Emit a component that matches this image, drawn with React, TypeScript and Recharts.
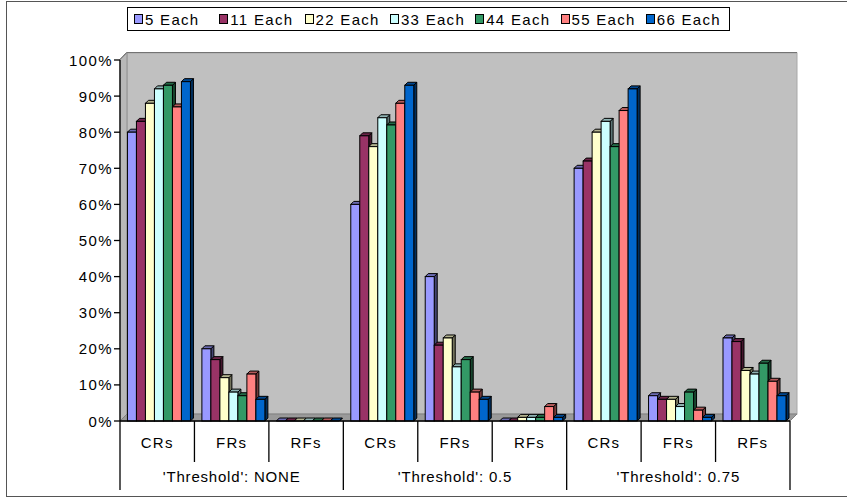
import React from 'react';
import { BarChart, Bar, XAxis, YAxis, CartesianGrid, ReferenceArea, Legend } from 'recharts';

// categories along the x axis, grouped three per threshold setting
const metrics = ['CRs', 'FRs', 'RFs', 'CRs', 'FRs', 'RFs', 'CRs', 'FRs', 'RFs'];
const thresholds = ["'Threshold': NONE", "'Threshold': 0.5", "'Threshold': 0.75"];

const seriesNames = ['5 Each', '11 Each', '22 Each', '33 Each', '44 Each', '55 Each', '66 Each'];
const seriesColors = ['#9999FF', '#993366', '#FFFFCC', '#CCFFFF', '#339966', '#FF8080', '#0066CC'];

const each5 = [0.80, 0.20, 0, 0.60, 0.40, 0, 0.70, 0.07, 0.23];
const each11 = [0.83, 0.17, 0, 0.79, 0.21, 0, 0.72, 0.06, 0.22];
const each22 = [0.88, 0.12, 0, 0.76, 0.23, 0.01, 0.80, 0.06, 0.14];
const each33 = [0.92, 0.08, 0, 0.84, 0.15, 0.01, 0.83, 0.04, 0.13];
const each44 = [0.93, 0.07, 0, 0.82, 0.17, 0.01, 0.76, 0.08, 0.16];
const each55 = [0.87, 0.13, 0, 0.88, 0.08, 0.04, 0.86, 0.03, 0.11];
const each66 = [0.94, 0.06, 0, 0.93, 0.06, 0.01, 0.92, 0.01, 0.07];

const yTicks = [0, 0.1, 0.2, 0.3, 0.4, 0.5, 0.6, 0.7, 0.8, 0.9, 1];

const seriesValues = [each5, each11, each22, each33, each44, each55, each66];

const data = metrics.map((metric, i) => {
  const row: Record<string, string | number> = { metric, group: thresholds[Math.floor(i / 3)] };
  seriesValues.forEach((vals, s) => { row[`s${s}`] = vals[i]; });
  return row;
});

const FONT = '"Liberation Sans", Arial, sans-serif';
const WALL_DX = 7;
const WALL_DY = 7;
const BAR_D = 3;

const shade = (hex: string, f: number) => {
  const n = parseInt(hex.slice(1), 16);
  const c = [(n >> 16) & 255, (n >> 8) & 255, n & 255].map((v) => Math.round(v * f));
  return `rgb(${c[0]},${c[1]},${c[2]})`;
};

// column with a small top cap and right side face
const Bar3D = (props: any) => {
  const { x, y, width, height, fill } = props;
  if (x == null || y == null) return null;
  const w = width;
  const b = y + height;
  return (
    <g stroke="#000" strokeWidth={1} strokeLinejoin="miter">
      <polygon
        points={`${x + w},${y} ${x + w + BAR_D},${y - BAR_D} ${x + w + BAR_D},${b - BAR_D} ${x + w},${b}`}
        fill={shade(fill, 0.45)}
      />
      <polygon
        points={`${x},${y} ${x + BAR_D},${y - BAR_D} ${x + w + BAR_D},${y - BAR_D} ${x + w},${y}`}
        fill={shade(fill, 0.7)}
      />
      {height > 0 && <rect x={x} y={y} width={w} height={height} fill={fill} />}
    </g>
  );
};

// back wall, left side wall and floor of the plot box
const Walls = (props: any) => {
  const { x, y, width, height } = props;
  const l = x, r = x + width, t = y, b = y + height;
  return (
    <g>
      <rect x={l + WALL_DX} y={t - WALL_DY} width={width} height={height} fill="#C0C0C0" stroke="#A8A8A8" />
      <polygon
        points={`${l},${t} ${l + WALL_DX},${t - WALL_DY} ${l + WALL_DX},${b - WALL_DY} ${l},${b}`}
        fill="#B8B8B8"
        stroke="#909090"
      />
      <polygon
        points={`${l},${b} ${l + WALL_DX},${b - WALL_DY} ${r + WALL_DX},${b - WALL_DY} ${r},${b}`}
        fill="#9A9A9A"
        stroke="#808080"
      />
    </g>
  );
};

const GridLine = (p: any) => {
  if (p.y1 > 415) return <g key={p.key} />;
  return (
    <polyline
      key={p.key}
      points={`${p.x1},${p.y1} ${p.x1 + WALL_DX},${p.y1 - WALL_DY} ${p.x2 + WALL_DX},${p.y1 - WALL_DY}`}
      fill="none"
      stroke="#000"
      strokeWidth={1.3}
    />
  );
};

const MetricTick = (props: any) => {
  const { x, y, payload, index } = props;
  const half = payload.offset ?? 670 / 18;
  return (
    <g>
      <text x={x} y={y + 21} textAnchor="middle" dominantBaseline="central"
        fontFamily={FONT} fontSize={15} letterSpacing={1.2} fill="#000">
        {payload.value}
      </text>
      {index % 3 !== 2 && (
        <line x1={x + half} x2={x + half} y1={y} y2={y + 41} stroke="#000" strokeWidth={1.3} />
      )}
    </g>
  );
};

const GroupTick = (props: any) => {
  const { x, y, payload, index } = props;
  const half = payload.offset ?? 670 / 18;
  return (
    <g>
      {index % 3 === 1 && (
        <text x={x} y={y + 15} textAnchor="middle" dominantBaseline="central"
          fontFamily={FONT} fontSize={15} letterSpacing={0.8} fill="#000">
          {payload.value}
        </text>
      )}
      {index % 3 === 0 && (
        <line x1={x - half} x2={x - half} y1={y - 40} y2={y + 29} stroke="#000" strokeWidth={1.3} />
      )}
      {index === metrics.length - 1 && (
        <line x1={x + half} x2={x + half} y1={y - 40} y2={y + 29} stroke="#000" strokeWidth={1.3} />
      )}
    </g>
  );
};

const PctTick = (props: any) => {
  const { x, y, payload } = props;
  return (
    <text x={x} y={y} textAnchor="end" dominantBaseline="central"
      fontFamily={FONT} fontSize={15} letterSpacing={1.4} fill="#000">
      {`${Math.round(payload.value * 100)}%`}
    </text>
  );
};

const LegendBox = () => (
  <div style={{
    position: 'relative', width: 603, height: 24, border: '1px solid #000',
    background: '#fff', boxSizing: 'border-box', fontFamily: FONT, fontSize: 15,
  }}>
    {seriesNames.map((name, i) => (
      <div key={name} style={{
        position: 'absolute', left: 6 + i * 85.3, top: 0, height: 22,
        display: 'flex', alignItems: 'center', whiteSpace: 'nowrap',
      }}>
        <span style={{
          display: 'inline-block', width: 7, height: 8, background: seriesColors[i],
          border: '1px solid #000', marginRight: 2,
        }} />
        <span style={{ letterSpacing: 1.3, color: '#000' }}>{name}</span>
      </div>
    ))}
  </div>
);

export default function App() {
  return (
    <div style={{ position: 'absolute', left: 0, top: 0, width: 847, height: 497, background: '#fff' }}>
      <div style={{
        position: 'absolute', left: 6, top: 1, width: 900, height: 494,
        borderTop: '1px solid #555', borderLeft: '1px solid #555', borderBottom: '1px solid #555',
      }} />
      <BarChart
        width={847}
        height={497}
        data={data}
        margin={{ top: 60, right: 57, left: 60, bottom: 6 }}
        barCategoryGap="10%"
        barGap={0}
        style={{ position: 'absolute', left: 0, top: 0 }}
      >
        <XAxis xAxisId="cat" dataKey="metric" interval={0} height={40}
          tickSize={0} tickMargin={0} tickLine={false}
          axisLine={{ stroke: '#000', strokeWidth: 1.3 }} tick={<MetricTick />} />
        <XAxis xAxisId="thr" dataKey="group" interval={0} height={30}
          tickSize={0} tickMargin={0} tickLine={false} axisLine={false} tick={<GroupTick />} />
        <YAxis width={60} domain={[0, 1]} ticks={yTicks} interval={0}
          tickSize={6} tickMargin={1}
          tickLine={{ stroke: '#000', strokeWidth: 1.3 }}
          axisLine={{ stroke: '#000', strokeWidth: 1.3 }} tick={<PctTick />} />
        <ReferenceArea xAxisId="cat" y1={0} y2={1} shape={<Walls />} ifOverflow="visible" />
        <CartesianGrid xAxisId="cat" vertical={false} horizontal={GridLine} stroke="#000" />
        <Legend layout="horizontal" verticalAlign="middle" align="center"
          wrapperStyle={{ top: 7, left: 127, width: 603, height: 24 }} content={<LegendBox />} />
        {seriesNames.map((name, i) => (
          <Bar key={name} xAxisId="cat" dataKey={`s${i}`} name={name} fill={seriesColors[i]}
            shape={<Bar3D />} isAnimationActive={false} />
        ))}
      </BarChart>
    </div>
  );
}
